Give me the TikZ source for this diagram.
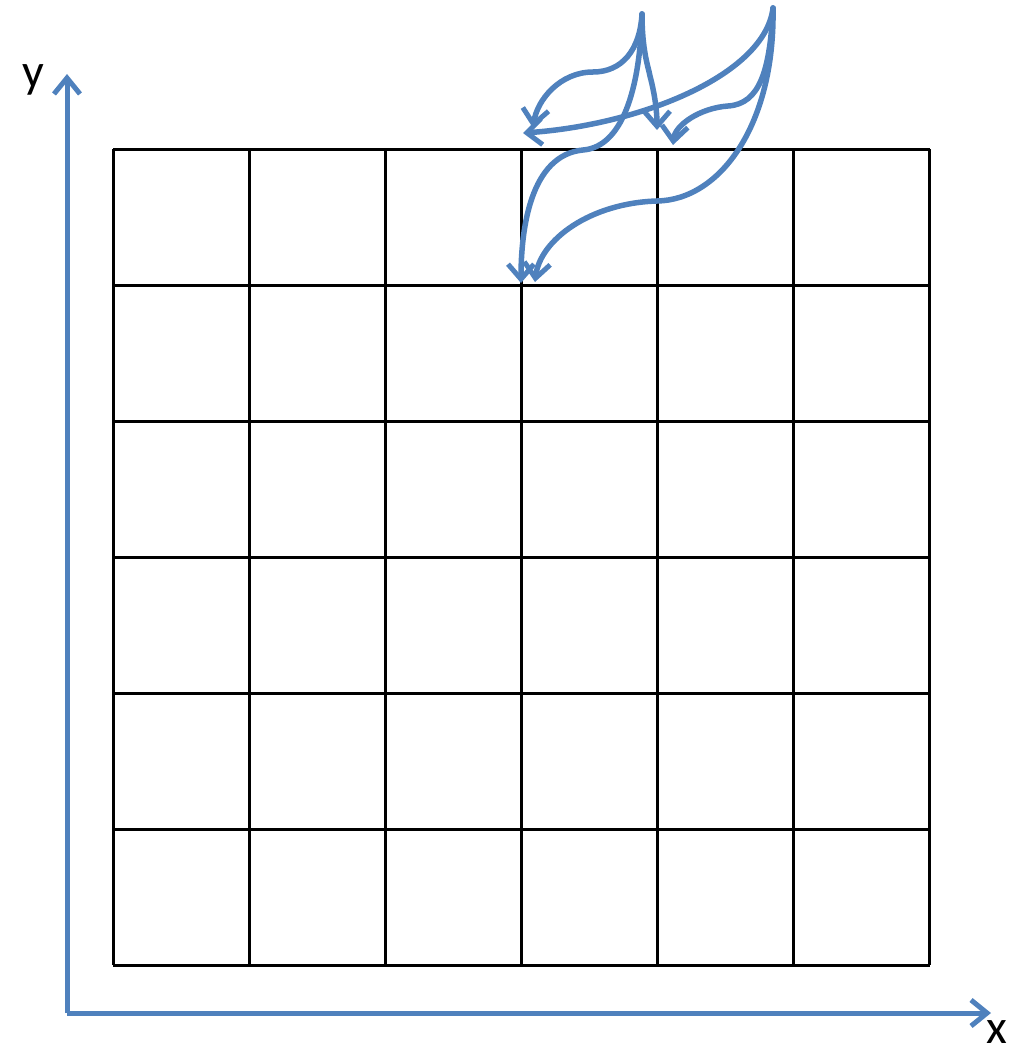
\documentclass[tikz,border=0pt]{standalone}
\usepackage{fontspec}
\setmainfont{Carlito}
\usetikzlibrary{arrows.meta}

\definecolor{officeblue}{RGB}{79,129,189}

\tikzset{
    axis/.style={officeblue, line width=5pt, -{Straight Barb[length=16pt, width=26pt, line width=5pt]}},
    flow/.style={officeblue, line width=5.5pt, line cap=round, -{Straight Barb[length=15pt, width=26pt, line width=5pt]}},
    cellline/.style={black, line width=3pt},
    axislabel/.style={font=\fontsize{48}{58}\selectfont, inner sep=0pt, anchor=base},
}

\begin{document}
\begin{tikzpicture}[x=1pt, y=-1pt]
        \useasboundingbox (0,0) rectangle (1016,1057);

        % the 6x6 grid
        \foreach \i in {0,...,6} {
            \draw[cellline] (113+136*\i,149) -- (113+136*\i,965);
            \draw[cellline] (113,149+136*\i) -- (930,149+136*\i);
        }

        % axes
        \coordinate (origin) at (67,1013);
        \coordinate (ytip) at (67,74);
        \coordinate (xtip) at (991,1013);
        \draw[axis] (origin) -- (ytip);
        \draw[axis] (origin) -- (xtip);
        \node[axislabel] (ylabel) at (33,87) {y};
        \node[axislabel] (xlabel) at (997,1043) {x};

        % moves
        \coordinate (s1) at (642,14);
        \coordinate (s2) at (773,8);
        \coordinate (t1) at (533,128);
        \coordinate (t2) at (657,130);
        \coordinate (t3) at (521,283);
        \coordinate (t4) at (523,133);
        \coordinate (t5) at (673,145);
        \coordinate (t6) at (535,282);

        \draw[flow] (s1) .. controls (640,50) and (622,72) .. (593,72)
                         .. controls (560,72) and (537,100) .. (t1);
        \draw[flow] (s1) .. controls (642,50) and (648,66) .. (650,76)
                         .. controls (655,95) and (657,112) .. (t2);
        \draw[flow] (s1) .. controls (640,90) and (622,147) .. (583,150)
                         .. controls (530,155) and (521,230) .. (t3);
        \draw[flow] (s2) .. controls (765,75) and (640,125) .. (t4);
        \draw[flow] (s2) .. controls (770,70) and (760,104) .. (728,106)
                         .. controls (700,108) and (675,125) .. (t5);
        \draw[flow] (s2) .. controls (775,125) and (720,200) .. (657,201)
                         .. controls (590,203) and (540,240) .. (t6);
\end{tikzpicture}
\end{document}
